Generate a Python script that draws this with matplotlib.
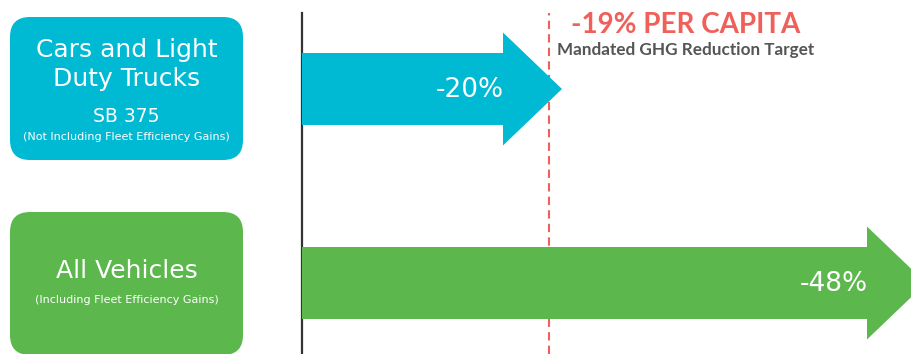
import matplotlib.pyplot as plt
from matplotlib.patches import FancyArrow, FancyBboxPatch

# data
groups = ['Cars and Light\nDuty Trucks', 'All Vehicles']
group_notes = ['(Not Including Fleet Efficiency Gains)', '(Including Fleet Efficiency Gains)']
group_sub = ['SB 375', '']
reductions = [20, 48]          # % GHG reduction
arrow_labels = ['-20%', '-48%']
target = 19                    # % per capita mandated target
target_title = '-19% PER CAPITA'
target_sub = 'Mandated GHG Reduction Target'

colors = ['#00B9D3', '#5CB84C']
red = '#F0605A'

W, H = 911, 354
fig = plt.figure(figsize=(W / 100, H / 100), dpi=100)
fig.patch.set_facecolor('white')

# left panel with rounded label boxes (pixel coordinates)
lax = fig.add_axes([0, 0, 302 / W, 1])
lax.set_xlim(0, 302)
lax.set_ylim(H, 0)
lax.axis('off')

box_top = [17, 212]
box_h = 143
font_main = 'DejaVu Sans'
for i in range(len(groups)):
    lax.add_patch(FancyBboxPatch((10, box_top[i]), 233, box_h,
                                 boxstyle='round,pad=0,rounding_size=20',
                                 fc=colors[i], ec='none'))
cx = 126.5
lax.text(cx, 64.5, groups[0], ha='center', va='center', color='white',
         fontsize=18, family=font_main, linespacing=1.22)
lax.text(cx, 117, group_sub[0], ha='center', va='center', color='white',
         fontsize=13.5, family=font_main)
lax.text(cx, 136.5, group_notes[0], ha='center', va='center', color='white',
         fontsize=8, family=font_main)
lax.text(cx, 271, groups[1], ha='center', va='center', color='white',
         fontsize=18, family=font_main)
lax.text(cx, 300, group_notes[1], ha='center', va='center', color='white',
         fontsize=8, family=font_main)

# main panel: arrows in % reduction units, 13 px per %
px_per = 13.0
ax = fig.add_axes([302 / W, 0, (W - 302) / W, (H - 13) / H])
ax.set_xlim(0, (W - 302) / px_per)
ax.set_ylim(H, 13)
for s in ['top', 'right', 'bottom']:
    ax.spines[s].set_visible(False)
ax.spines['left'].set_color('#333333')
ax.spines['left'].set_linewidth(1.6)
ax.set_xticks([])
ax.set_yticks([])

row_y = [89, 283]
head_len = 59 / px_per
for i, v in enumerate(reductions):
    ax.add_patch(FancyArrow(0, row_y[i], v, 0, width=72, head_width=113,
                            head_length=head_len, length_includes_head=True,
                            fc=colors[i], ec='none', zorder=3))
    ax.text(v - head_len + 0.05, row_y[i] + 1, arrow_labels[i], ha='right',
            va='center', color='white', fontsize=19, family=font_main, zorder=4)

ax.axvline(target, color=red, lw=1.5, ls=(0, (4, 2.5)), zorder=1)
ax.text(target + 10.5, 25, target_title, ha='center', va='center', color=red,
        fontsize=20, family='Lato', fontweight='bold')
ax.text(target + 10.5, 50, target_sub, ha='center', va='center', color='#555555',
        fontsize=12.3, family='Lato', fontweight='bold')

fig.savefig('out.png', dpi=100)
